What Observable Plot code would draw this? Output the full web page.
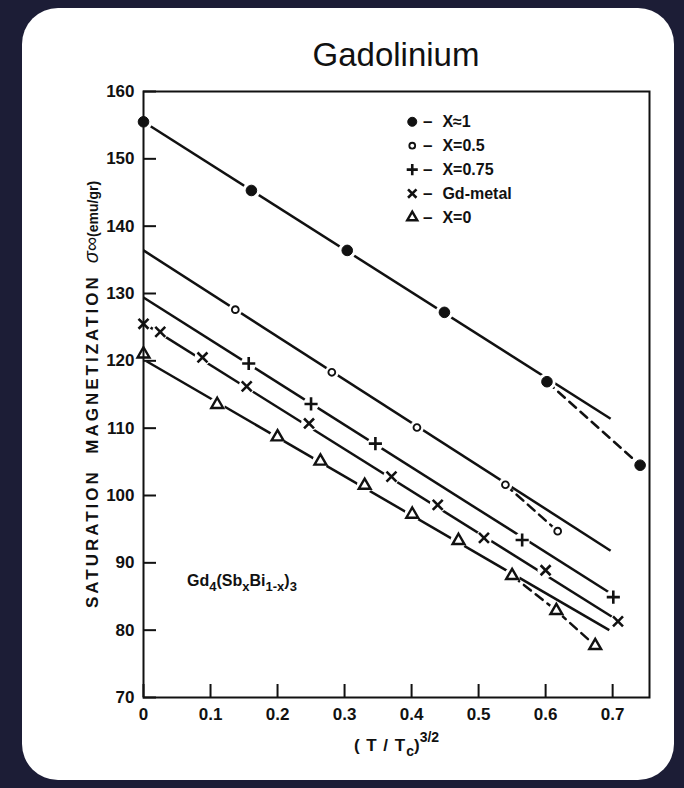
<!DOCTYPE html>
<html><head><meta charset="utf-8">
<script src="https://cdn.jsdelivr.net/npm/d3@7"></script>
<script src="https://cdn.jsdelivr.net/npm/@observablehq/plot@0.6"></script>
<style>
html,body{margin:0;padding:0;}
body{width:684px;height:788px;overflow:hidden;background:#1c1d36;position:relative;font-family:"Liberation Sans",Arial,sans-serif;}
#card{position:absolute;left:22px;top:8px;width:652px;height:772px;background:#fff;border-radius:36px;}
#title{position:absolute;left:143px;width:506px;top:35px;text-align:center;font-size:33px;color:#111;line-height:40px;}
#chart{position:absolute;left:0;top:70px;}
#chart svg{overflow:visible;}
</style></head><body>
<div id="card"></div>
<div id="title">Gadolinium</div>
<div id="chart"></div>
<script>
// ---- data ----
const seriesNames = ["X≈1", "X=0.5", "X=0.75", "Gd-metal", "X=0"];
const xDot    = [0, 0.161, 0.304, 0.449, 0.602, 0.741];
const yDot    = [155.5, 145.3, 136.4, 127.2, 116.9, 104.5];
const xCircle = [0.137, 0.281, 0.408, 0.540, 0.618];
const yCircle = [127.6, 118.3, 110.1, 101.6, 94.7];
const xPlus   = [0.157, 0.250, 0.346, 0.565, 0.701];
const yPlus   = [119.6, 113.6, 107.7, 93.4, 84.9];
const xTimes  = [0, 0.025, 0.088, 0.154, 0.247, 0.370, 0.439, 0.508, 0.600, 0.708];
const yTimes  = [125.5, 124.3, 120.5, 116.2, 110.7, 102.8, 98.6, 93.7, 88.9, 81.3];
const xTri    = [0, 0.110, 0.200, 0.264, 0.330, 0.401, 0.470, 0.550, 0.616, 0.674];
const yTri    = [121.0, 113.5, 108.7, 105.1, 101.5, 97.2, 93.3, 88.1, 82.9, 77.7];
// straight fitted lines (start / end)
const fitX0 = [0, 0, 0, 0, 0];
const fitY0 = [155.5, 136.4, 129.4, 125.6, 120.2];
const fitX1 = [0.697, 0.697, 0.695, 0.699, 0.695];
const fitY1 = [111.4, 91.8, 85.6, 82.0, 80.0];
// dashed tails: how many of the last markers are joined by a dashed line
const tailCount = [2, 2, 0, 0, 3];
const xTicks = [0, 0.1, 0.2, 0.3, 0.4, 0.5, 0.6, 0.7];
const xTickLabels = ["0", "0.1", "0.2", "0.3", "0.4", "0.5", "0.6", "0.7"];
const yTicks = [70, 80, 90, 100, 110, 120, 130, 140, 150, 160];
const yTickLabels = ["70", "80", "90", "100", "110", "120", "130", "140", "150", "160"];
const formulaLabel = "Gd4(SbxBi1-x)3";
const xLabel = "(T/Tc)3/2";
const yLabel = "SATURATION MAGNETIZATION σ∞(emu/gr)";

// ---- build ----
const xs = [xDot, xCircle, xPlus, xTimes, xTri];
const ys = [yDot, yCircle, yPlus, yTimes, yTri];
const symbols = ["circle", "circle", "plus", "times", "triangle"];
const fills = ["#111", "none", "none", "none", "none"];
const radii = [5.3, 3.4, 4.3, 4.6, 4.4];
const widths = [1, 1.9, 2.6, 2.6, 2.4];

const W = 684, H = 717, mL = 143, mR = 35, mT = 21, mB = 90;
const pw = W - mL - mR, ph = H - mT - mB;

const fits = seriesNames.map((s, i) => ({s, x1: fitX0[i], y1: fitY0[i], x2: fitX1[i], y2: fitY1[i]}));
const tails = [];
seriesNames.forEach((s, i) => {
  const n = tailCount[i];
  if (n > 0) for (let k = xs[i].length - n; k < xs[i].length; k++) tails.push({s, x: xs[i][k], y: ys[i][k]});
});

const marks = [];
marks.push(Plot.link(fits, {x1: "x1", y1: "y1", x2: "x2", y2: "y2", stroke: "#111", strokeWidth: 2.5}));
marks.push(Plot.line(tails, {x: "x", y: "y", z: "s", stroke: "#111", strokeWidth: 2.5, strokeDasharray: "9,6"}));
seriesNames.forEach((s, i) => {
  const pts = xs[i].map((x, k) => ({x, y: ys[i][k]}));
  marks.push(Plot.dot(pts, {x: "x", y: "y", r: radii[i] + 3.5, fill: "white", stroke: "none"}));
});
seriesNames.forEach((s, i) => {
  const pts = xs[i].map((x, k) => ({x, y: ys[i][k]}));
  marks.push(Plot.dot(pts, {x: "x", y: "y", r: radii[i], symbol: () => symbols[i], fill: fills[i], stroke: "#111", strokeWidth: widths[i]}));
});
// legend (upper right of the frame)
const legendRows = seriesNames.map((s, i) => ({s, i}));
const lgY = d => 155.5 - d.i * 3.55;
seriesNames.forEach((s, i) => {
  marks.push(Plot.dot([legendRows[i]], {x: () => 0.401, y: lgY, r: radii[i] * 0.85, symbol: () => symbols[i], fill: fills[i], stroke: "#111", strokeWidth: widths[i]}));
});
marks.push(Plot.text(legendRows, {x: () => 0.424, y: lgY, text: () => "–", fontSize: 17, fontWeight: "bold"}));
marks.push(Plot.text(legendRows, {x: () => 0.446, y: lgY, text: "s", textAnchor: "start", fontSize: 16, fontWeight: "bold", letterSpacing: "1.5px"}));
marks.push(Plot.text([formulaLabel], {x: () => 0.065, y: () => 87.3, text: d => d, textAnchor: "start", fontSize: 16, fontWeight: "bold", letterSpacing: "2px"}));
// frame + inward ticks
marks.push(Plot.frame({stroke: "#111", strokeWidth: 2}));
marks.push(Plot.ruleY(yTicks, {stroke: "#111", strokeWidth: 2, insetRight: pw - 13}));
marks.push(Plot.ruleX(xTicks, {stroke: "#111", strokeWidth: 2, insetTop: ph - 13}));
marks.push(Plot.axisY(yTicks, {tickSize: 0, tickPadding: 9, label: null, tickFormat: d => yTickLabels[yTicks.indexOf(d)], fontSize: 17, fontWeight: "bold"}));
marks.push(Plot.axisX(xTicks, {tickSize: 0, tickPadding: 10, label: null, tickFormat: d => xTickLabels[xTicks.indexOf(d)], fontSize: 17, fontWeight: "bold"}));
marks.push(Plot.text([xLabel], {frameAnchor: "bottom", dy: 53, text: d => d, textAnchor: "middle", fontSize: 17, fontWeight: "bold"}));
marks.push(Plot.text([yLabel], {frameAnchor: "left", dx: -51, rotate: -90, text: d => d, textAnchor: "middle", fontSize: 17, fontWeight: "bold"}));

const chart = Plot.plot({
  width: W, height: H, marginLeft: mL, marginRight: mR, marginTop: mT, marginBottom: mB,
  style: {background: "transparent", fontFamily: "'Liberation Sans', Arial, sans-serif", color: "#111", overflow: "visible"},
  x: {domain: [0, 0.755]},
  y: {domain: [70, 160]},
  marks
});
document.getElementById("chart").appendChild(chart);

function richText(key, parts) {
  d3.select(chart).selectAll("text").filter(function () { return this.textContent === key; }).each(function () {
    const t = d3.select(this);
    t.text(null);
    for (const p of parts) {
      const s = t.append("tspan").text(p.t);
      for (const k in (p.a || {})) s.attr(k, p.a[k]);
    }
  });
}
richText(formulaLabel, [
  {t: "Gd"}, {t: "4", a: {dy: 5, "font-size": 13}}, {t: "(Sb", a: {dy: -5}}, {t: "x", a: {dy: 5, "font-size": 13}},
  {t: "Bi", a: {dy: -5}}, {t: "1-x", a: {dy: 5, "font-size": 13}}, {t: ")", a: {dy: -5}}, {t: "3", a: {dy: 5, "font-size": 13}}
]);
richText(xLabel, [
  {t: "( T / T", a: {"letter-spacing": "1px"}}, {t: "c", a: {dy: 5, "font-size": 14}}, {t: ")", a: {dy: -5}},
  {t: "3/2", a: {dy: -9, "font-size": 14}}
]);
richText(yLabel, [
  {t: "SATURATION", a: {"letter-spacing": "3px"}}, {t: "  MAGNETIZATION", a: {"letter-spacing": "3px"}},
  {t: "  σ∞", a: {"font-style": "italic", "font-size": 20, "font-weight": "normal"}},
  {t: "(emu/gr)", a: {"font-size": 14}}
]);
</script>
</body></html>
